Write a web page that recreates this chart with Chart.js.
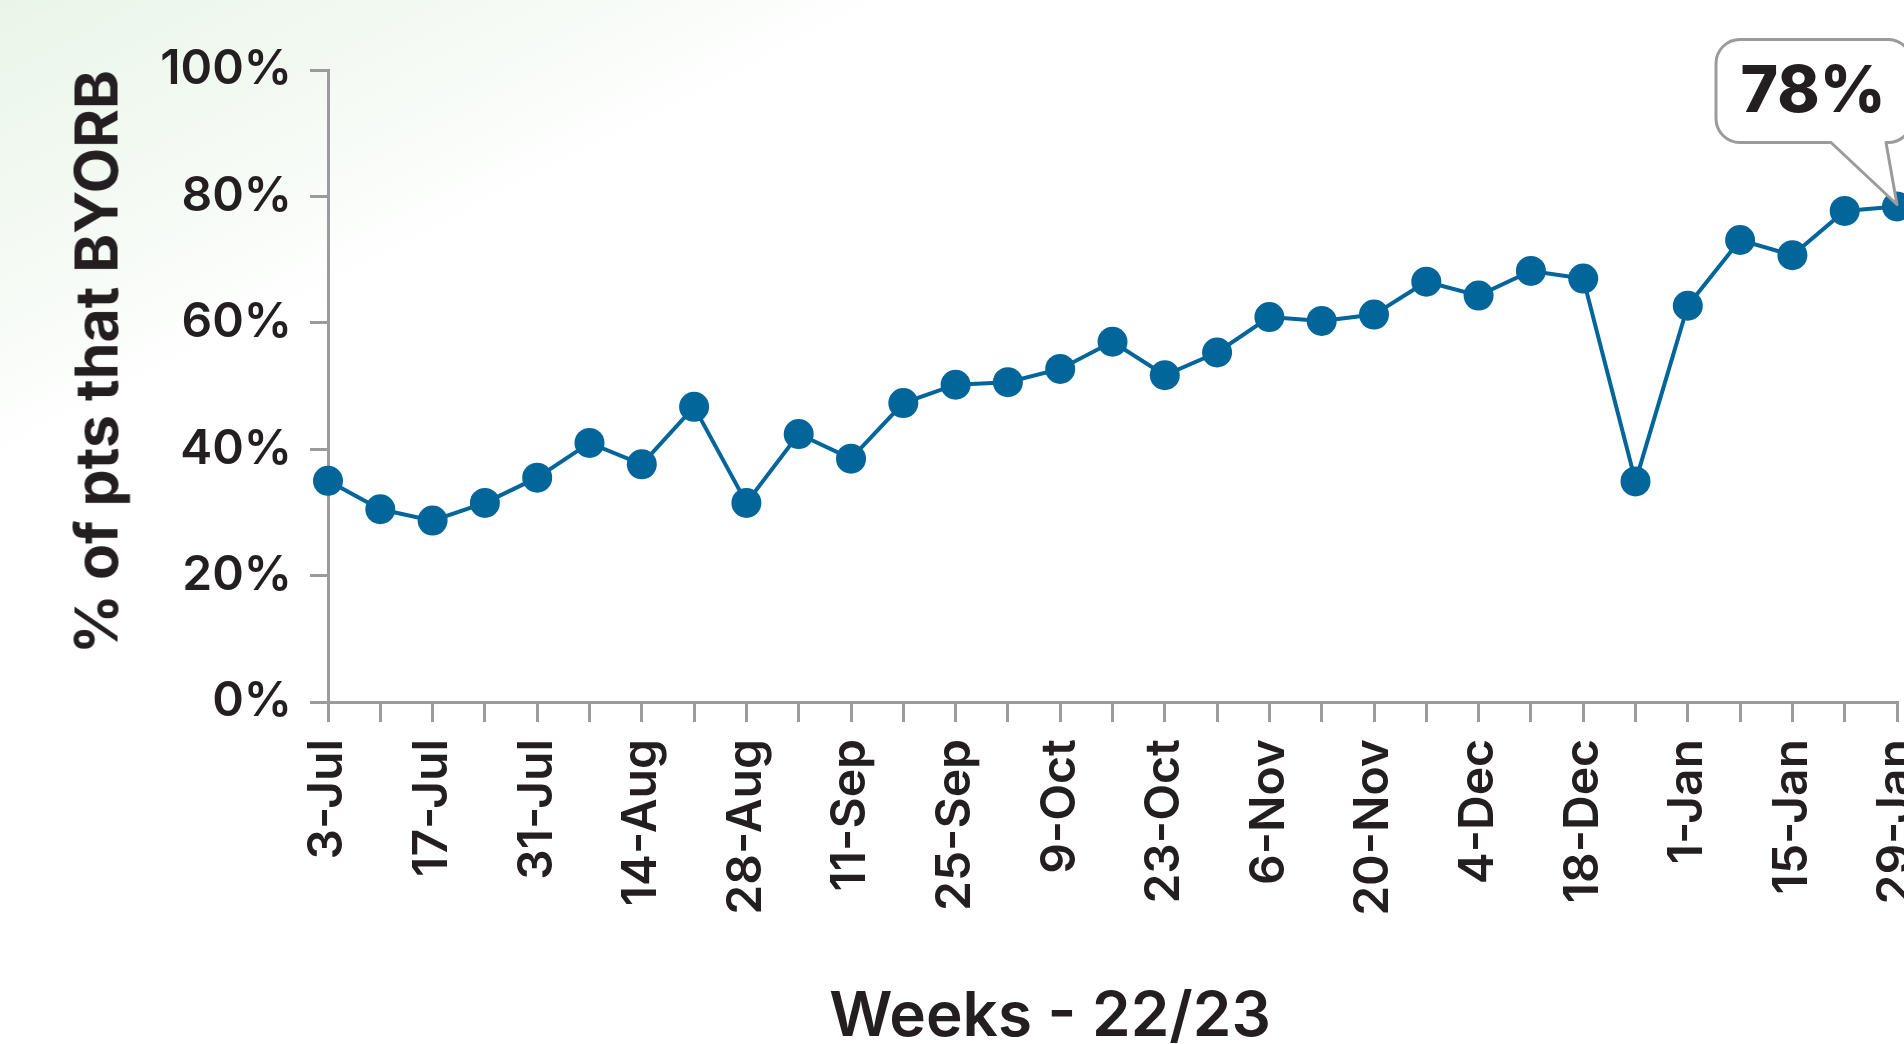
<!DOCTYPE html>
<html>
<head>
<meta charset="utf-8">
<title>% of pts that BYORB</title>
<script src="https://cdn.jsdelivr.net/npm/chart.js@4.4.1/dist/chart.umd.min.js"></script>
<style>
    html, body {
        margin: 0;
        padding: 0;
        width: 1904px;
        height: 1044px;
        overflow: hidden;
        background: linear-gradient(153deg, #eaf5e9 0%, #f2f9f1 10%, #f9fcf9 18%, #ffffff 23%);
        font-family: Inter, "Open Sans", sans-serif;
    }
    #wrap {
        position: relative;
        width: 1904px;
        height: 1044px;
    }
    .axis-title {
        position: absolute;
        color: #231f20;
        white-space: nowrap;
    }
    #xTitle {
        left: 1050px;
        top: 983px;
        transform: translateX(-50%);
        font-size: 62px;
        line-height: 62px;
        font-weight: 600;
    }
    #yTitle {
        left: 96px;
        top: 362px;
        transform: translate(-50%, -50%) rotate(-90deg);
        font-size: 59px;
        line-height: 59px;
        font-weight: 700;
    }
</style>
</head>
<body>
<div id="wrap">
    <canvas id="diagram" width="1904" height="1044"></canvas>
    <div id="yTitle" class="axis-title">% of pts that BYORB</div>
    <div id="xTitle" class="axis-title">Weeks - 22/23</div>
</div>

<script>
// minggu (awal minggu) 22/23
const weeks = [
    '3-Jul', '10-Jul', '17-Jul', '24-Jul', '31-Jul',
    '7-Aug', '14-Aug', '21-Aug', '28-Aug',
    '4-Sep', '11-Sep', '18-Sep', '25-Sep',
    '2-Oct', '9-Oct', '16-Oct', '23-Oct', '30-Oct',
    '6-Nov', '13-Nov', '20-Nov', '27-Nov',
    '4-Dec', '11-Dec', '18-Dec', '25-Dec',
    '1-Jan', '8-Jan', '15-Jan', '22-Jan', '29-Jan'
];

// % pasien yang BYORB per minggu
const byorbPct = [
    35.0, 30.5, 28.7, 31.5, 35.5,
    41.0, 37.6, 46.7, 31.5,
    42.4, 38.5, 47.3, 50.2,
    50.6, 52.7, 57.0, 51.7, 55.3,
    60.9, 60.3, 61.3, 66.5,
    64.3, 68.2, 67.0, 34.9,
    62.7, 73.1, 70.7, 77.7, 78.4
];

const yTicks = [0, 20, 40, 60, 80, 100];

const lineColor = '#02669a';
const axisColor = '#9b9b9e';
const textColor = '#231f20';

// callout di titik terakhir
const calloutPlugin = {
    id: 'callout',
    afterDatasetsDraw(chart) {
        const meta = chart.getDatasetMeta(0);
        const last = meta.data[meta.data.length - 1];
        const tx = last.x, ty = last.y - 2;
        const L = tx - 181, R = tx + 15, T = ty - 165, B = ty - 62, r = 24;
        const x1 = tx - 66, x2 = tx - 11;
        const ctx = chart.ctx;
        ctx.save();
        ctx.beginPath();
        ctx.moveTo(L + r, T);
        ctx.lineTo(R - r, T);
        ctx.arcTo(R, T, R, T + r, r);
        ctx.lineTo(R, B - r);
        ctx.arcTo(R, B, R - r, B, r);
        ctx.lineTo(x2, B);
        ctx.lineTo(tx, ty);
        ctx.lineTo(x1, B);
        ctx.lineTo(L + r, B);
        ctx.arcTo(L, B, L, B - r, r);
        ctx.lineTo(L, T + r);
        ctx.arcTo(L, T, L + r, T, r);
        ctx.closePath();
        ctx.fillStyle = '#ffffff';
        ctx.fill();
        ctx.lineWidth = 3;
        ctx.lineJoin = 'round';
        ctx.strokeStyle = axisColor;
        ctx.stroke();

        const val = byorbPct[byorbPct.length - 1];
        ctx.fillStyle = textColor;
        ctx.font = '800 64px Inter, "Open Sans", sans-serif';
        ctx.textAlign = 'center';
        ctx.textBaseline = 'middle';
        ctx.fillText(Math.round(val) + '%', (L + R) / 2 - 1, (T + B) / 2 + 2);
        ctx.restore();
    }
};

const config = {
    type: 'line',
    data: {
        labels: weeks,
        datasets: [{
            label: '% of pts that BYORB',
            data: byorbPct,
            borderColor: lineColor,
            backgroundColor: lineColor,
            borderWidth: 4,
            pointRadius: 15,
            pointBorderWidth: 0,
            pointBackgroundColor: lineColor,
            tension: 0,
            clip: false
        }]
    },
    options: {
        responsive: false,
        devicePixelRatio: 1,
        animation: false,
        layout: {
            autoPadding: false,
            padding: { left: 60, top: 70, right: 7, bottom: 0 }
        },
        plugins: {
            legend: { display: false },
            tooltip: { enabled: false }
        },
        scales: {
            x: {
                offset: false,
                grid: {
                    drawOnChartArea: false,
                    drawTicks: true,
                    tickLength: 20,
                    tickWidth: 3,
                    color: axisColor,
                    lineWidth: 3
                },
                border: { display: true, color: axisColor, width: 3 },
                ticks: {
                    autoSkip: false,
                    minRotation: 90,
                    maxRotation: 90,
                    padding: 17,
                    color: textColor,
                    font: { family: 'Inter', size: 48, weight: '600' },
                    // label tiap 2 minggu
                    callback: function(value, index) {
                        return index % 2 === 0 ? weeks[index] : '';
                    }
                },
                afterFit: function(scale) {
                    scale.height = 1044 - 702;
                    scale.paddingLeft = 0;
                    scale.paddingRight = 0;
                }
            },
            y: {
                min: 0,
                max: 100,
                afterBuildTicks: function(scale) {
                    scale.ticks = yTicks.map(v => ({ value: v }));
                },
                grid: {
                    drawOnChartArea: false,
                    drawTicks: true,
                    tickLength: 18,
                    tickWidth: 3,
                    color: axisColor,
                    lineWidth: 3
                },
                border: { display: true, color: axisColor, width: 3 },
                ticks: {
                    padding: 18,
                    color: textColor,
                    font: { family: 'Inter', size: 48, weight: '600' },
                    callback: function(value) {
                        return value + '%';
                    }
                },
                afterFit: function(scale) {
                    scale.width = 328 - 60;
                    scale.paddingTop = 0;
                    scale.paddingBottom = 0;
                }
            }
        }
    },
    plugins: [calloutPlugin]
};

const myChart = new Chart(
    document.getElementById('diagram'),
    config
);
</script>
</body>
</html>
